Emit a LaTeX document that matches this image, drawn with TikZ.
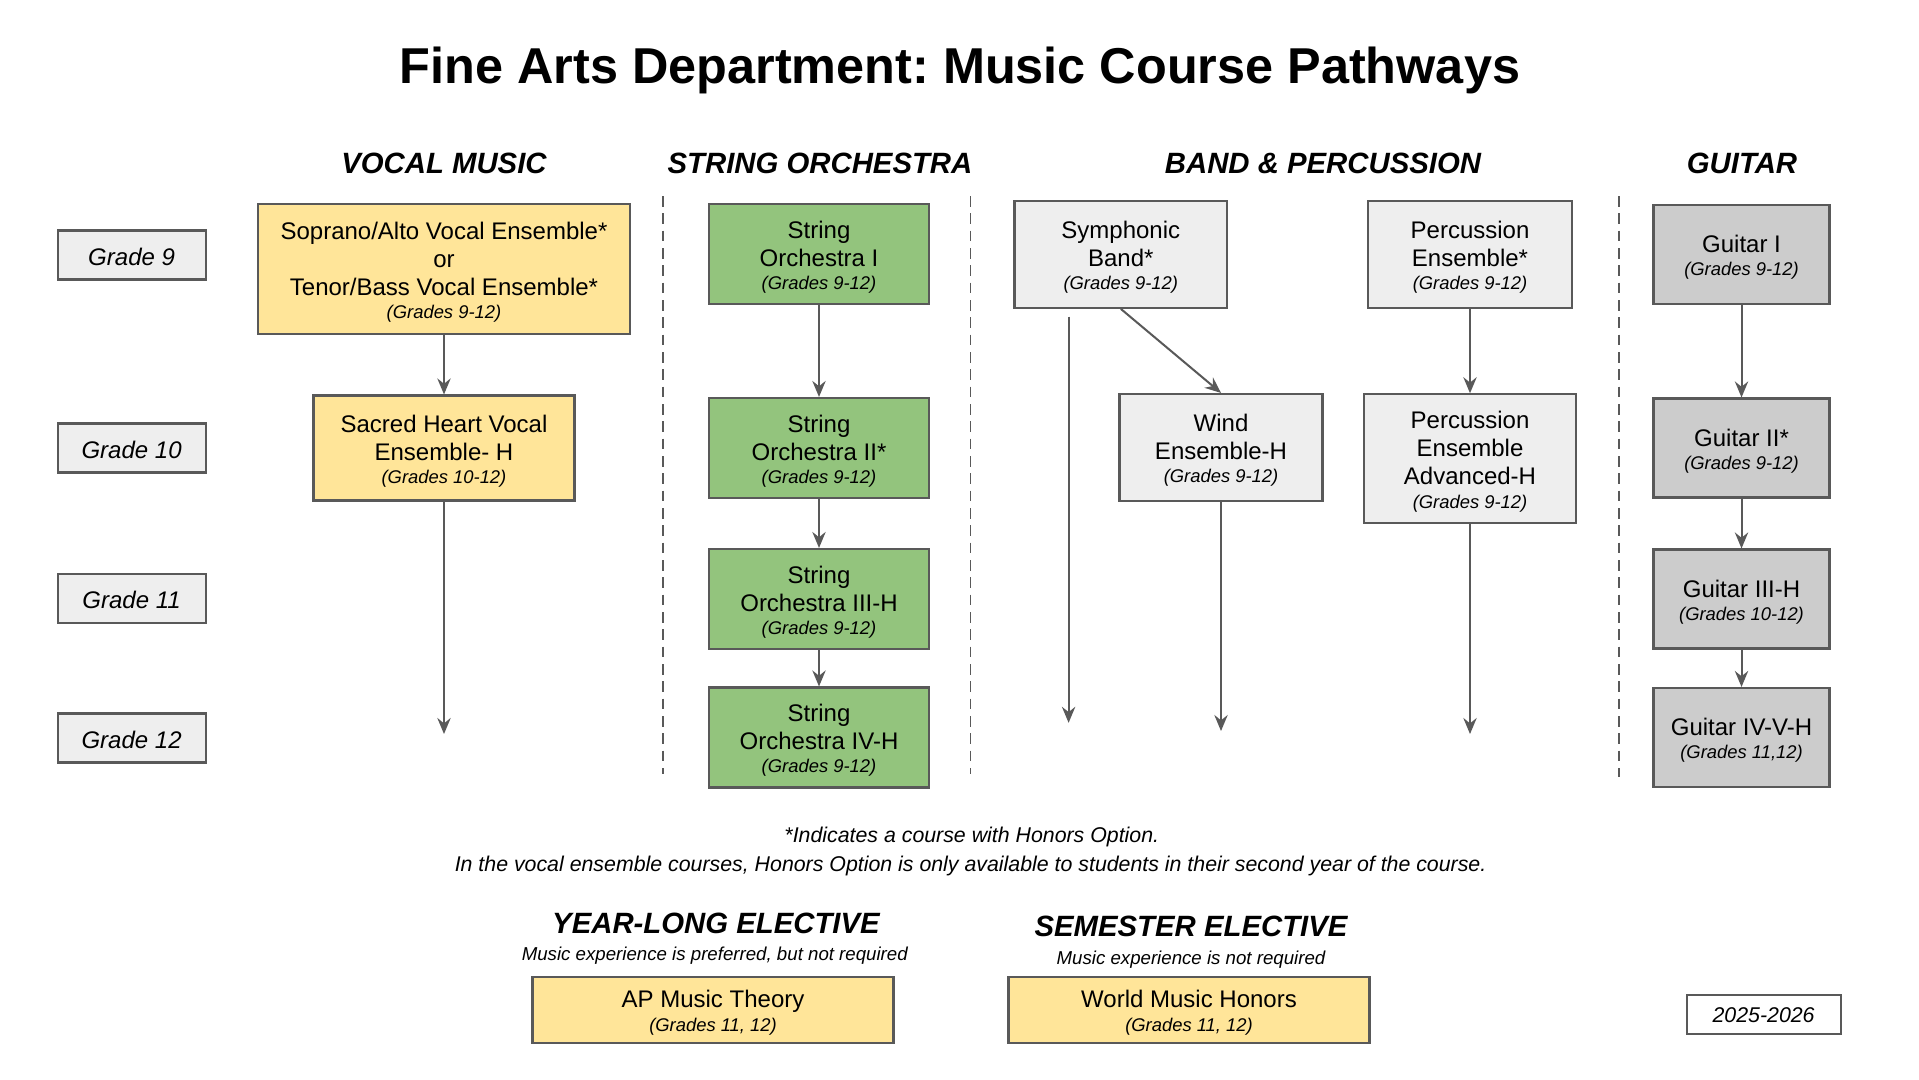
\documentclass[tikz,border=0pt]{standalone}
\usepackage{fontspec}
\setmainfont{Liberation Sans}
\usetikzlibrary{arrows.meta}
\frenchspacing
\definecolor{yel}{HTML}{FFE599}
\definecolor{grn}{HTML}{93C47D}
\definecolor{lgr}{HTML}{EEEEEE}
\definecolor{mgr}{HTML}{CCCCCC}
\definecolor{edge}{HTML}{595959}
\newcommand{\gr}[1]{{\fontsize{13.8}{16}\selectfont\itshape #1}}
\newcommand{\fl}{\rule{0pt}{17.5pt}}
\newcommand{\gl}{\rule{0pt}{15.5pt}}
\tikzset{
  box/.style={draw=edge, line width=1.6pt, align=center, inner sep=0pt,
    font=\fontsize{18}{21}\selectfont, text=black},
  gradebox/.style={draw=edge, line width=1.6pt, fill=lgr, inner sep=0pt,
    minimum width=111pt, minimum height=36.75pt, font=\fontsize{18}{21}\selectfont\itshape},
  conn/.style={draw=edge, line width=1.5pt, -{Stealth[length=12pt,width=10pt,inset=4pt]}},
  divider/.style={draw=edge, line width=1.4pt, dash pattern=on 8pt off 5pt},
  colhead/.style={font=\fontsize{22}{26}\selectfont\bfseries\itshape},
  note/.style={font=\fontsize{16}{19}\selectfont\itshape},
  subnote/.style={font=\fontsize{14}{17}\selectfont\itshape},
}
\begin{document}
\begin{tikzpicture}[x=0.75pt, y=-0.75pt]
\useasboundingbox[fill=white] (0,0) rectangle (1919,1079);

% title
\node[font=\fontsize{37.8}{45}\selectfont\bfseries] (title) at (960,70) {Fine Arts Department: Music Course Pathways};

% column headers
\node[colhead] (hvocal) at (444,163) {VOCAL MUSIC};
\node[colhead] (hstring) at (820,163) {STRING ORCHESTRA};
\node[colhead] (hband) at (1323,163) {BAND \& PERCUSSION};
\node[colhead] (hguitar) at (1742,163) {GUITAR};

% grade labels
\node[gradebox] (g9) at (131.6,255) {\gl Grade 9};
\node[gradebox] (g10) at (131.6,448) {\gl Grade 10};
\node[gradebox] (g11) at (131.6,598.6) {\gl Grade 11};
\node[gradebox] (g12) at (131.6,738) {\gl Grade 12};

% dividers
\coordinate (d1t) at (663,196); \coordinate (d1b) at (663,773.5);
\coordinate (d2t) at (970.5,196); \coordinate (d2b) at (970.5,773.5);
\coordinate (d3t) at (1619,196); \coordinate (d3b) at (1619,777);
\draw[divider] (d1t) -- (d1b);
\draw[divider] (d2t) -- (d2b);
\draw[divider] (d3t) -- (d3b);

% vocal
\node[box, fill=yel, minimum width=279pt, minimum height=97.5pt] (v1) at (444,269)
  {\fl Soprano/Alto Vocal Ensemble*\\or\\Tenor/Bass Vocal Ensemble*\\[-3.5pt]\gr{(Grades 9-12)}};
\node[box, fill=yel, minimum width=195.75pt, minimum height=78.75pt] (v2) at (444,448)
  {\fl Sacred Heart Vocal\\Ensemble- H\\[-3.5pt]\gr{(Grades 10-12)}};

% strings
\node[box, fill=grn, minimum width=165pt, minimum height=75pt] (s1) at (819,254)
  {\fl String\\Orchestra I\\[-3.5pt]\gr{(Grades 9-12)}};
\node[box, fill=grn, minimum width=165pt, minimum height=75pt] (s2) at (819,448)
  {\fl String\\Orchestra II*\\[-3.5pt]\gr{(Grades 9-12)}};
\node[box, fill=grn, minimum width=165pt, minimum height=75pt] (s3) at (819,599)
  {\fl String\\Orchestra III-H\\[-3.5pt]\gr{(Grades 9-12)}};
\node[box, fill=grn, minimum width=165pt, minimum height=75pt] (s4) at (819,737.5)
  {\fl String\\Orchestra IV-H\\[-3.5pt]\gr{(Grades 9-12)}};

% band
\node[box, fill=lgr, minimum width=159.4pt, minimum height=80.25pt] (sb) at (1120.8,254.3)
  {\fl Symphonic\\Band*\\[-3.5pt]\gr{(Grades 9-12)}};
\node[box, fill=lgr, minimum width=152.25pt, minimum height=80.25pt] (we) at (1221,447.5)
  {\fl Wind\\Ensemble-H\\[-3.5pt]\gr{(Grades 9-12)}};
\node[box, fill=lgr, minimum width=152.6pt, minimum height=80.25pt] (pe) at (1470,254.3)
  {\fl Percussion\\Ensemble*\\[-3.5pt]\gr{(Grades 9-12)}};
\node[box, fill=lgr, minimum width=158.7pt, minimum height=96.75pt] (pa) at (1470,458.8)
  {\fl Percussion\\Ensemble\\Advanced-H\\[-3.5pt]\gr{(Grades 9-12)}};

% guitar
\node[box, fill=mgr, minimum width=132pt, minimum height=74.25pt] (gu1) at (1741.5,254.3)
  {\fl Guitar I\\[-3.5pt]\gr{(Grades 9-12)}};
\node[box, fill=mgr, minimum width=132pt, minimum height=74.25pt] (gu2) at (1741.5,448)
  {\fl Guitar II*\\[-3.5pt]\gr{(Grades 9-12)}};
\node[box, fill=mgr, minimum width=132pt, minimum height=74.25pt] (gu3) at (1741.5,599)
  {\fl Guitar III-H\\[-3.5pt]\gr{(Grades 10-12)}};
\node[box, fill=mgr, minimum width=132pt, minimum height=74.25pt] (gu4) at (1741.5,737.5)
  {\fl Guitar IV-V-H\\[-3.5pt]\gr{(Grades 11,12)}};

% connectors
\coordinate (vend) at (444,734);
\coordinate (sbs) at (1068.6,316.7);
\coordinate (sbe) at (1068.6,722.8);
\coordinate (weend) at (1221,731);
\coordinate (paend) at (1470,734);
\draw[conn] (v1) -- (v2);
\draw[conn] (v2) -- (vend);
\draw[conn] (s1) -- (s2);
\draw[conn] (s2) -- (s3);
\draw[conn] (s3) -- (s4);
\draw[conn] (sbs) -- (sbe);
\draw[conn] (sb.south) -- (we.north);
\draw[conn] (we) -- (weend);
\draw[conn] (pe) -- (pa);
\draw[conn] (pa) -- (paend);
\draw[conn] (gu1) -- (gu2);
\draw[conn] (gu2) -- (gu3);
\draw[conn] (gu3) -- (gu4);

% notes
\node[note] (n1) at (971.8,837.2) {*Indicates a course with Honors Option.};
\node[note] (n2) at (970.6,865.5) {In the vocal ensemble courses, Honors Option is only available to students in their second year of the course.};

% electives
\node[colhead] (hyear) at (716,923) {YEAR-LONG ELECTIVE};
\node[subnote] (syear) at (714.8,956) {Music experience is preferred, but not required};
\node[colhead] (hsem) at (1191,926.5) {SEMESTER ELECTIVE};
\node[subnote] (ssem) at (1191,959.5) {Music experience is not required};
\node[box, fill=yel, minimum width=270.75pt, minimum height=49.5pt] (ap) at (713,1009.7)
  {\fl AP Music Theory\\[-3.5pt]\gr{(Grades 11, 12)}};
\node[box, fill=yel, minimum width=270.75pt, minimum height=49.5pt] (wm) at (1189,1009.7)
  {\fl World Music Honors\\[-3.5pt]\gr{(Grades 11, 12)}};

% year
\node[draw=edge, line width=1.6pt, fill=white, minimum width=115.5pt, minimum height=29.25pt, inner sep=0pt, font=\fontsize{16}{19}\selectfont\itshape] (yr) at (1763.6,1014.7) {2025-2026};
\end{tikzpicture}
\end{document}
